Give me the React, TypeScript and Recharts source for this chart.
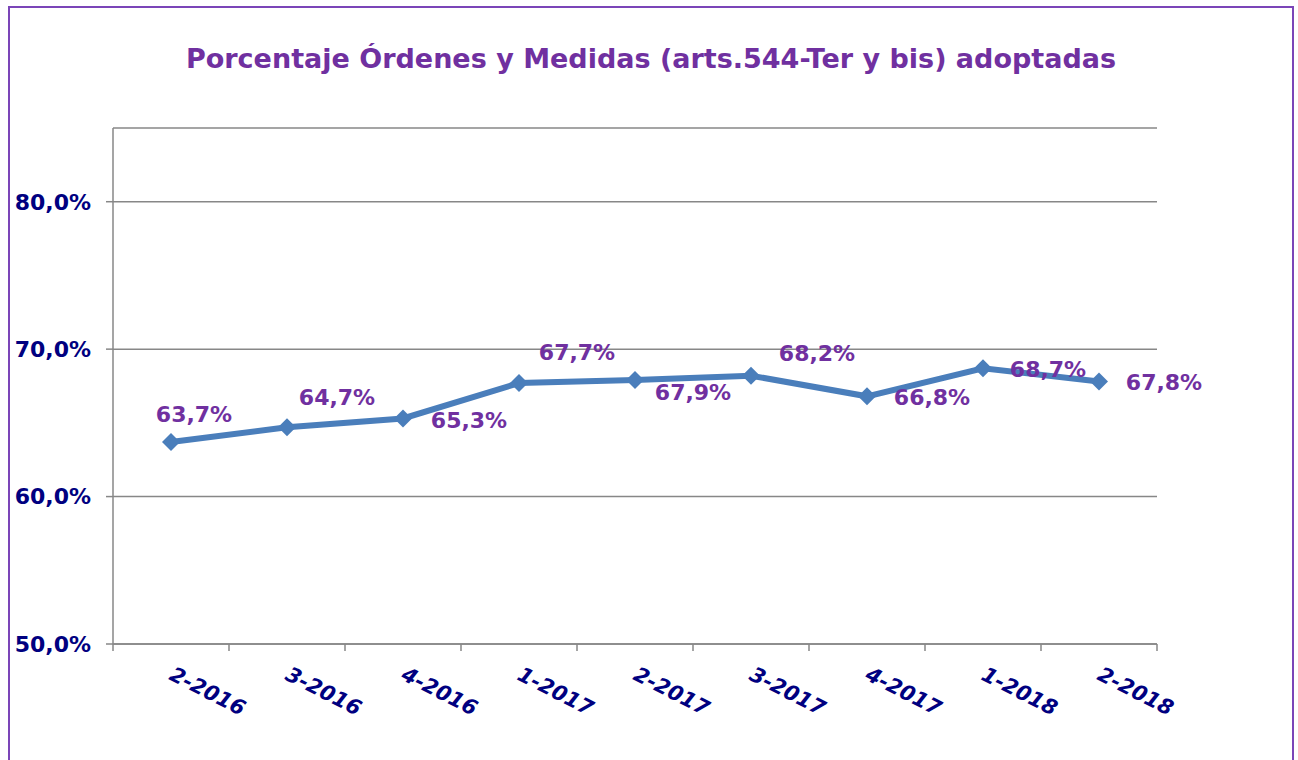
import React from "react";
import { LineChart, Line, XAxis, YAxis, CartesianGrid, LabelList } from "recharts";

const periods = ["2-2016", "3-2016", "4-2016", "1-2017", "2-2017", "3-2017", "4-2017", "1-2018", "2-2018"];
const adopted = [63.7, 64.7, 65.3, 67.7, 67.9, 68.2, 66.8, 68.7, 67.8];
const yTicks = [50, 60, 70, 80];

// where each value label sits, relative to its point (text centre)
const labelOffsets = [
  [23, -28],
  [50, -30],
  [66, 2],
  [58, -31],
  [58, 12],
  [66, -23],
  [65, 1],
  [65, 1],
  [65, 1],
];

const data = periods.map((p, i) => ({ idx: i, period: p, value: adopted[i] }));
// ticks at band centres (labels) and band edges (tick marks)
const xTicks: number[] = [];
periods.forEach((_, i) => xTicks.push(i - 0.5, i));
xTicks.push(periods.length - 0.5);

const FONT = "'DejaVu Sans', Verdana, sans-serif";
const NAVY = "#000080";
const PURPLE = "#7030A0";
const FRAME = "#7B45B8";
const LINE_BLUE = "#4A7EBB";
const GRID = "#878787";

const pct = (v: number) => v.toFixed(1).replace(".", ",") + "%";

const Diamond = (props: any) => {
  const { cx, cy } = props;
  if (cx == null || cy == null) return null;
  const s = 9;
  return (
    <polygon
      points={`${cx},${cy - s} ${cx + s},${cy} ${cx},${cy + s} ${cx - s},${cy}`}
      fill={LINE_BLUE}
    />
  );
};

const PeriodTick = (props: any) => {
  const { x, y, payload } = props;
  const v = payload.value;
  if (!Number.isInteger(v)) {
    return <line x1={x} y1={y} x2={x} y2={y + 7} stroke={GRID} strokeWidth={1.5} />;
  }
  const ax = x - 3;
  const ay = y + 35;
  return (
    <text
      x={ax}
      y={ay}
      transform={`rotate(27, ${ax}, ${ay})`}
      textAnchor="start"
      fill={NAVY}
      fontSize={21}
      fontWeight="bold"
      fontStyle="italic"
      fontFamily={FONT}
    >
      {periods[v]}
    </text>
  );
};

const ValueLabel = (props: any) => {
  const { x, y, value, index } = props;
  const [dx, dy] = labelOffsets[index] || [0, -20];
  return (
    <text
      x={x + dx}
      y={y + dy}
      dy="0.36em"
      textAnchor="middle"
      fill={PURPLE}
      fontSize={22}
      fontWeight="bold"
      fontFamily={FONT}
    >
      {pct(value)}
    </text>
  );
};

const edge = (left: number, top: number, width: number, height: number): React.CSSProperties => ({
  position: "absolute",
  left,
  top,
  width,
  height,
  background: FRAME,
});

export default function App() {
  return (
    <div
      style={{
        position: "absolute",
        left: 0,
        top: 0,
        width: 1298,
        height: 760,
        overflow: "hidden",
        background: "#fff",
        fontFamily: FONT,
      }}
    >
      <div style={edge(8, 6, 1286, 2)} />
      <div style={edge(8, 6, 2, 760)} />
      <div style={edge(1292, 6, 2, 760)} />
      <div
        style={{
          position: "absolute",
          top: 45,
          left: 10,
          width: 1282,
          textAlign: "center",
          fontSize: 27,
          lineHeight: "27px",
          fontWeight: "bold",
          color: PURPLE,
        }}
      >
        Porcentaje Órdenes y Medidas (arts.544-Ter y bis) adoptadas
      </div>
      <div style={{ position: "absolute", left: 10, top: 8 }}>
        <LineChart
          width={1282}
          height={740}
          data={data}
          margin={{ top: 120, right: 135, left: 0, bottom: 24 }}
        >
          <CartesianGrid vertical={false} stroke={GRID} strokeWidth={1.5} />
          <XAxis
            type="number"
            dataKey="idx"
            domain={[-0.5, periods.length - 0.5]}
            ticks={xTicks}
            interval={0}
            allowDataOverflow
            tickLine={false}
            tickSize={0}
            tickMargin={0}
            height={80}
            stroke={GRID}
            strokeWidth={1.5}
            tick={<PeriodTick />}
          />
          <YAxis
            domain={[50, 85]}
            ticks={yTicks}
            allowDataOverflow
            width={103}
            tickSize={7}
            tickMargin={15}
            stroke={GRID}
            strokeWidth={1.5}
            tickFormatter={(v: number) => pct(v)}
            tick={{ fill: NAVY, fontSize: 22, fontWeight: "bold", fontFamily: FONT }}
          />
          <Line
            dataKey="value"
            stroke={LINE_BLUE}
            strokeWidth={6}
            dot={<Diamond />}
            activeDot={false}
            isAnimationActive={false}
          >
            <LabelList dataKey="value" content={<ValueLabel />} />
          </Line>
        </LineChart>
      </div>
    </div>
  );
}
